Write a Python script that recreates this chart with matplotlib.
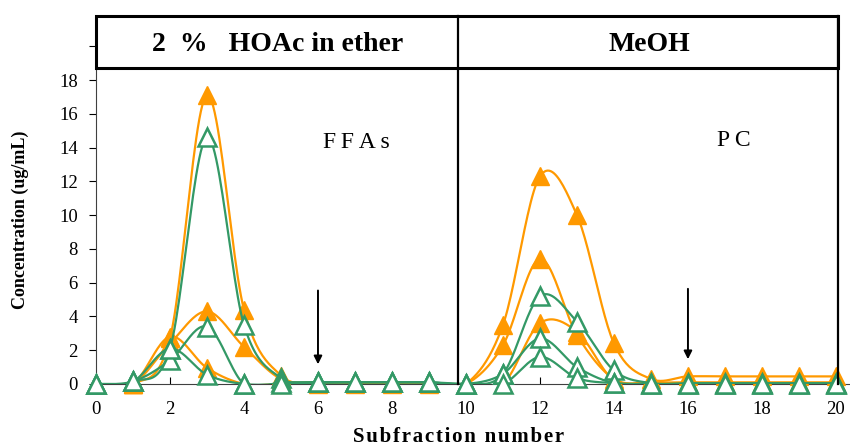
import numpy as np
import matplotlib.pyplot as plt
from matplotlib.patches import Rectangle

plt.rcParams['font.family'] = ['Liberation Serif', 'DejaVu Serif']

# subfraction numbers
x = np.arange(0, 21)

# orange (filled triangles)
orange_a = [0, 0, 2.7, 17.1, 4.4, 0.5, 0.1, 0.1, 0.1, 0.1, 0, 3.5, 12.3, 10.0, 2.4, 0.3, 0.45, 0.45, 0.45, 0.45, 0.45]
orange_b = [0, 0, 2.4, 4.3, 2.2, 0.3, 0.1, 0.1, 0.1, 0.1, 0, 2.3, 7.4, 2.9, 0.3, 0.1, 0.1, 0.1, 0.1, 0.1, 0.1]
orange_c = [0, 0, 2.8, 0.95, 0, 0, 0, 0, 0, 0, 0, 0, 3.6, 3.1, 0.2, 0, 0, 0, 0, 0, 0]

# green (open triangles)
green_a = [0, 0.15, 2.1, 14.6, 3.5, 0.35, 0.1, 0.1, 0.1, 0.1, 0, 0.6, 5.2, 3.7, 0.8, 0.05, 0.05, 0.05, 0.05, 0.05, 0.05]
green_b = [0, 0.15, 1.4, 3.4, 0, 0.1, 0.1, 0.1, 0.1, 0.1, 0, 0.6, 2.7, 1.0, 0.05, 0, 0, 0, 0, 0, 0]
green_c = [0, 0.15, 2.1, 0.55, 0, 0, 0.1, 0.1, 0.1, 0.1, 0, 0, 1.6, 0.35, 0.05, 0, 0, 0, 0, 0, 0]

yticks = [0, 2, 4, 6, 8, 10, 12, 14, 16, 18, 20]
ytick_labels = ['0', '2', '4', '6', '8', '10', '12', '14', '16', '18', '']
xticks = [0, 2, 4, 6, 8, 10, 12, 14, 16, 18, 20]

ORANGE = '#FF9900'
GREEN = '#339966'
HAIR = '\u200a'


def smooth(xs, ys, n=25):
    # bezier smoothing through every point (spreadsheet style)
    pts = np.column_stack([xs, ys]).astype(float)
    m = len(pts)
    out = []
    t = np.linspace(0, 1, n)[:, None]
    for i in range(m - 1):
        p0 = pts[max(i - 1, 0)]
        p1 = pts[i]
        p2 = pts[i + 1]
        p3 = pts[min(i + 2, m - 1)]
        c1 = p1 + (p2 - p0) / 6
        c2 = p2 - (p3 - p1) / 6
        seg = ((1 - t) ** 3 * p1 + 3 * (1 - t) ** 2 * t * c1
               + 3 * (1 - t) * t ** 2 * c2 + t ** 3 * p2)
        out.append(seg if i == 0 else seg[1:])
    seg = np.vstack(out)
    return seg[:, 0], seg[:, 1]


def spaced(s, sep):
    return sep.join(s)


fig = plt.figure(figsize=(8.5, 4.46), dpi=100)
ax = fig.add_axes([96 / 850, 62 / 446, 754 / 850, 368 / 446])

for ys in (orange_a, orange_b, orange_c):
    sx, sy = smooth(x, ys)
    ax.plot(sx, sy, color=ORANGE, lw=1.6, zorder=2)
    ax.plot(x, ys, ls='none', marker='^', ms=13, color=ORANGE,
            mec=ORANGE, zorder=3, clip_on=False)

for ys in (green_a, green_b, green_c):
    sx, sy = smooth(x, ys)
    ax.plot(sx, sy, color=GREEN, lw=1.6, zorder=4)
    ax.plot(x, ys, ls='none', marker='^', ms=13, mfc='white', mec=GREEN,
            mew=1.8, zorder=5, clip_on=False)

ax.set_xlim(0, 20.38)
ax.set_ylim(0, 21.79)

# solvent header box
ax.add_patch(Rectangle((0, 18.71), 20.05, 21.79 - 18.71, fill=False,
                       ec='black', lw=2.2, zorder=6, clip_on=False))
ax.plot([9.78, 9.78], [0, 21.79], color='black', lw=1.6, zorder=6, clip_on=False)
ax.plot([20.05, 20.05], [0, 21.79], color='black', lw=1.6, zorder=6, clip_on=False)
ax.text(4.9, 20.13, '2  %   HOAc in ether', ha='center', va='center',
        fontsize=20, fontweight='bold')
ax.text(14.95, 20.13, 'MeOH', ha='center', va='center',
        fontsize=20, fontweight='bold')

ax.text(7.05, 14.3, spaced('FFAs', '\u2009'), ha='center', va='center', fontsize=17)
ax.text(17.25, 14.4, spaced('PC', '\u2009'), ha='center', va='center', fontsize=17)

# cut-off arrows
ax.annotate('', xy=(6, 1.0), xytext=(6, 5.7),
            arrowprops=dict(arrowstyle='-|>', color='black', lw=1.4,
                            mutation_scale=12))
ax.annotate('', xy=(16, 1.3), xytext=(16, 5.8),
            arrowprops=dict(arrowstyle='-|>', color='black', lw=1.4,
                            mutation_scale=12))

ax.spines['top'].set_visible(False)
ax.spines['right'].set_visible(False)
ax.spines['left'].set_color('#404040')
ax.spines['bottom'].set_color('#404040')

ax.set_yticks(yticks)
ax.set_yticklabels(ytick_labels, fontsize=13.5)
ax.set_xticks(xticks)
ax.set_xticklabels([str(v) for v in xticks], fontsize=13.5)
ax.tick_params(axis='y', direction='out', length=5, pad=8)
ax.tick_params(axis='x', direction='in', length=5, pad=12)

fig.text(459 / 850, 1 - 437 / 446, spaced('Subfraction number', HAIR),
         ha='center', va='center', fontsize=15, fontweight='bold')
fig.text(20 / 850, 1 - 220 / 446, 'Concentration (ug/mL)', rotation=90,
         ha='center', va='center', fontsize=13, fontweight='bold')

plt.savefig('out.png', dpi=100)
